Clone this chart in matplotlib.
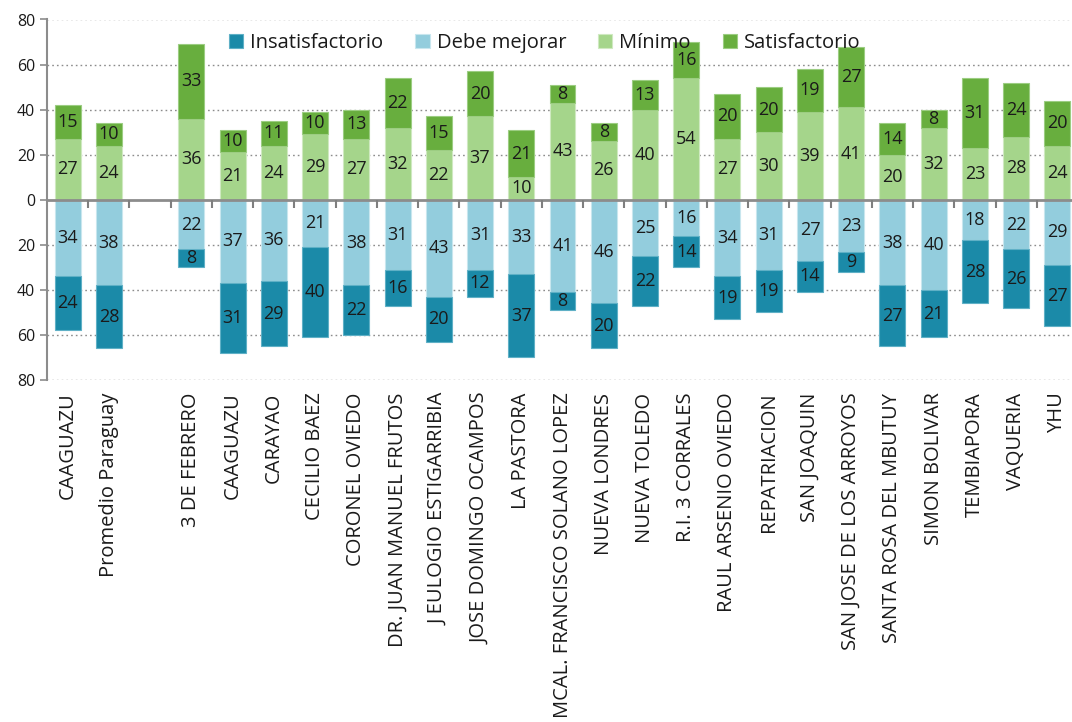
import numpy as np
import matplotlib
matplotlib.use("Agg")
import matplotlib.pyplot as plt
from matplotlib.ticker import FuncFormatter

plt.rcParams['font.family'] = ['Open Sans', 'DejaVu Sans']

# Data
categorias = ["CAAGUAZU", "Promedio Paraguay", "3 DE FEBRERO", "CAAGUAZU", "CARAYAO",
              "CECILIO BAEZ", "CORONEL OVIEDO", "DR. JUAN MANUEL FRUTOS",
              "J EULOGIO ESTIGARRIBIA", "JOSE DOMINGO OCAMPOS", "LA PASTORA",
              "MCAL. FRANCISCO SOLANO LOPEZ", "NUEVA LONDRES", "NUEVA TOLEDO",
              "R.I. 3 CORRALES", "RAUL ARSENIO OVIEDO", "REPATRIACION", "SAN JOAQUIN",
              "SAN JOSE DE LOS ARROYOS", "SANTA ROSA DEL MBUTUY", "SIMON BOLIVAR",
              "TEMBIAPORA", "VAQUERIA", "YHU"]
insatisfactorio = [24, 28, 8, 31, 29, 40, 22, 16, 20, 12, 37, 8, 20, 22, 14, 19, 19, 14, 9, 27, 21, 28, 26, 27]
debe_mejorar = [34, 38, 22, 37, 36, 21, 38, 31, 43, 31, 33, 41, 46, 25, 16, 34, 31, 27, 23, 38, 40, 18, 22, 29]
minimo = [27, 24, 36, 21, 24, 29, 27, 32, 22, 37, 10, 43, 26, 40, 54, 27, 30, 39, 41, 20, 32, 23, 28, 24]
satisfactorio = [15, 10, 33, 10, 11, 10, 13, 22, 15, 20, 21, 8, 8, 13, 16, 20, 20, 19, 27, 14, 8, 31, 24, 20]

c_insat = "#1b8aa8"
c_debe = "#93cddd"
c_min = "#a5d58b"
c_sat = "#68ae3e"
txt = "#1a1a1a"
gris = "#8c8c8c"

# positions: an empty slot after "Promedio Paraguay"
x = np.arange(len(categorias))
x[2:] += 1

fig = plt.figure(figsize=(10.72, 7.22), dpi=100)
ax = fig.add_axes([47/1072, 342/722, 1031/1072, 360.5/722])

w = 0.63
ins = np.array(insatisfactorio)
deb = np.array(debe_mejorar)
mnm = np.array(minimo)
sat = np.array(satisfactorio)

b_deb = ax.bar(x, -deb, w, color=c_debe, edgecolor="#c8e6ee", linewidth=0.8, label="Debe mejorar", zorder=3)
b_ins = ax.bar(x, -ins, w, bottom=-deb, color=c_insat, edgecolor="#5fb0c6", linewidth=0.8, label="Insatisfactorio", zorder=3)
b_min = ax.bar(x, mnm, w, color=c_min, edgecolor="#cfe9c1", linewidth=0.8, label="Mínimo", zorder=3)
b_sat = ax.bar(x, sat, w, bottom=mnm, color=c_sat, edgecolor="#9ccd82", linewidth=0.8, label="Satisfactorio", zorder=3)

for bars, vals in [(b_deb, deb), (b_ins, ins), (b_min, mnm), (b_sat, sat)]:
    ax.bar_label(bars, labels=[str(v) for v in vals], label_type="center",
                 fontsize=13, color=txt)

ax.set_ylim(-80, 80)
ax.set_xlim(-0.5, x[-1] + 0.5)
ax.set_yticks(np.arange(-80, 81, 20))
ax.yaxis.set_major_formatter(FuncFormatter(lambda v, p: f"{abs(v):.0f}"))
ax.tick_params(axis="y", labelsize=11.5, length=5, color=gris, width=1.2, labelcolor=txt)

# dotted gridlines (skip the zero level, drawn as the axis)
for yv in np.arange(-80, 81, 20):
    if yv != 0:
        ax.axhline(yv, linestyle=(0, (1.2, 2.2)), color=gris, linewidth=1.0, zorder=0)

for s in ["top", "right"]:
    ax.spines[s].set_visible(False)
ax.spines["left"].set_color(gris)
ax.spines["left"].set_linewidth(1.5)
ax.spines["bottom"].set_position(("data", 0))
ax.spines["bottom"].set_color(gris)
ax.spines["bottom"].set_linewidth(2)
ax.spines["bottom"].set_zorder(5)

# boundary ticks on the zero line
ax.set_xticks(np.arange(0.5, x[-1] + 1, 1.0))
ax.set_xticklabels([])
ax.tick_params(axis="x", direction="out", length=6, color="#7f7f7f", width=1.5)
ax.xaxis.set_zorder(6)

# category labels below the plot
for xi, name in zip(x, categorias):
    ax.text(xi, -0.035, name, transform=ax.get_xaxis_transform(), rotation=90,
            ha="center", va="top", fontsize=14.5, color=txt)

h = [b_ins, b_deb, b_min, b_sat]
ax.legend(handles=h, labels=[b.get_label() for b in h], ncol=4, loc="center",
          bbox_to_anchor=(0.483, 0.935), frameon=False, fontsize=14.5,
          handlelength=0.7, handleheight=0.7, handletextpad=0.35, columnspacing=1.6,
          labelcolor=txt)

fig.savefig("out.png", dpi=100)
